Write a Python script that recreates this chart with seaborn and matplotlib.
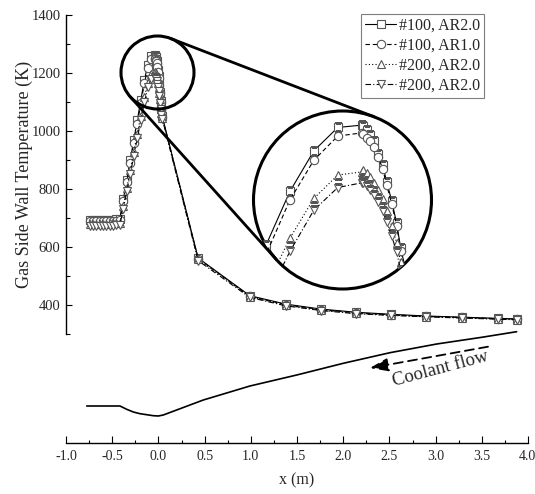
import numpy as np
import pandas as pd
import matplotlib
matplotlib.use("Agg")
import matplotlib.pyplot as plt
import seaborn as sns
from matplotlib.patches import Circle
from matplotlib.lines import Line2D
from matplotlib.transforms import IdentityTransform, ScaledTranslation
from matplotlib.ticker import MultipleLocator, FixedLocator

# ---------------- data ----------------
x_grid = [-0.742, -0.706, -0.670, -0.634, -0.598, -0.562, -0.526, -0.490, -0.454, -0.418,
          -0.380, -0.342, -0.304, -0.266, -0.228, -0.190, -0.152, -0.114, -0.076, -0.038,
          -0.0355, -0.0301, -0.0249, -0.0185, -0.0117, -0.0047, 0.0017, 0.0096, 0.0175, 0.0239, 0.032, 0.042,
          0.43, 0.99, 1.38, 1.76, 2.14, 2.52, 2.90, 3.29, 3.67, 3.88]

T_100_ar20 = [692, 692, 692, 693, 693, 693, 694, 694, 695, 697,
              764, 832, 901, 970, 1038, 1107, 1176, 1228, 1258, 1261,
              1260, 1255, 1248, 1240, 1224, 1210, 1188, 1164, 1135, 1103, 1075, 1050,
              562, 432, 403, 386, 375, 368, 362, 358, 354, 352]
T_100_ar10 = [688, 688, 688, 689, 689, 689, 690, 690, 691, 692,
              757, 824, 891, 958, 1025, 1095, 1165, 1216, 1247, 1251,
              1249, 1245, 1240, 1233, 1220, 1205, 1184, 1160, 1132, 1100, 1073, 1048,
              560, 430, 401, 384, 373, 366, 361, 357, 353, 351]
T_200_ar20a = [680, 680, 680, 681, 681, 681, 682, 682, 683, 684,
               742, 804, 866, 929, 991, 1053, 1116, 1167, 1197, 1201,
               1203, 1199, 1194, 1187, 1178, 1166, 1151, 1132, 1110, 1085, 1062, 1045,
               557, 428, 399, 382, 371, 365, 360, 356, 352, 350]
T_200_ar20b = [672, 672, 672, 673, 673, 673, 674, 674, 675, 676,
               731, 792, 853, 915, 976, 1037, 1099, 1152, 1181, 1187,
               1187, 1183, 1178, 1171, 1162, 1151, 1137, 1119, 1098, 1075, 1055, 1042,
               553, 426, 397, 381, 370, 364, 359, 355, 351, 349]

series_labels = ["#100, AR2.0", "#100, AR1.0", "#200, AR2.0", "#200, AR2.0"]
series_values = [T_100_ar20, T_100_ar10, T_200_ar20a, T_200_ar20b]
series_markers = ["s", "o", "^", "v"]
series_lines = ["-", (0, (4, 2.5)), (0, (1, 2)), (0, (5, 2, 1, 2))]

# nozzle wall contour (radius, arbitrary units)
noz_x = [-0.776, -0.416, -0.343, -0.271, -0.199, -0.127, -0.055, -0.001, 0.053,
         0.486, 0.991, 1.497, 2.001, 2.506, 3.012, 3.499, 3.877]
noz_r = [0.37, 0.37, 0.337, 0.31, 0.293, 0.283, 0.273, 0.27, 0.28,
         0.43, 0.57, 0.68, 0.797, 0.903, 0.99, 1.057, 1.113]

x_ticks = [-1.0, -0.5, 0.0, 0.5, 1.0, 1.5, 2.0, 2.5, 3.0, 3.5, 4.0]
y_ticks = [400, 600, 800, 1000, 1200, 1400]

# coolant-flow annotation (bottom-layer coordinates)
arrow_tail = (3.567, 0.963)
arrow_head = (2.29, 0.75)
coolant_text_pos = (3.05, 0.745)

# ---------------- style ----------------
sns.set_style("ticks")
plt.rcParams["font.family"] = ["Liberation Serif", "DejaVu Serif"]
plt.rcParams["axes.unicode_minus"] = False

W, H = 535, 494
fig = plt.figure(figsize=(W / 100, H / 100), dpi=100)


def rect(left, top, right, bottom):
    return [left / W, 1 - bottom / H, (right - left) / W, (bottom - top) / H]


ax_bot = fig.add_axes(rect(66, 315, 528, 443))
ax_top = fig.add_axes(rect(66, 15, 528, 334))
for a in (ax_top, ax_bot):
    a.patch.set_alpha(0)
ax_top.set_zorder(3)

line_kw = dict(color="black", lw=0.8, markersize=6, markerfacecolor="white",
               markeredgecolor="#555555", markeredgewidth=0.8, errorbar=None, sort=False)

for lab, vals, mk, ls in zip(series_labels, series_values, series_markers, series_lines):
    sns.lineplot(x=x_grid, y=vals, ax=ax_top, marker=mk, linestyle=ls, label=lab, **line_kw)

ax_top.set_xlim(-1, 4)
ax_top.set_ylim(300, 1400)
for s in ("top", "right", "bottom"):
    ax_top.spines[s].set_visible(False)
ax_top.spines["left"].set_linewidth(1.0)
ax_top.spines["left"].set_color("black")
ax_top.tick_params(axis="x", bottom=False, labelbottom=False)
ax_top.yaxis.set_major_locator(FixedLocator(y_ticks))
ax_top.yaxis.set_minor_locator(MultipleLocator(100))
ax_top.tick_params(axis="y", which="major", direction="in", length=4, width=0.8,
                   labelsize=10.5, pad=4, color="black")
ax_top.tick_params(axis="y", which="minor", direction="in", length=3, width=0.8, color="black")
ax_top.set_ylabel("Gas Side Wall Temperature (K)", fontsize=13)
ax_top.yaxis.set_label_coords(-0.072, 0.5)
ax_top.set_xlabel("")

# nozzle contour layer
sns.lineplot(x=noz_x, y=noz_r, ax=ax_bot, color="black", lw=1.2, errorbar=None, sort=False)
ax_bot.set_xlim(-1, 4)
ax_bot.set_ylim(0, 1.28)
for s in ("top", "right", "left"):
    ax_bot.spines[s].set_visible(False)
ax_bot.spines["bottom"].set_linewidth(1.0)
ax_bot.spines["bottom"].set_color("black")
ax_bot.set_yticks([])
ax_bot.xaxis.set_major_locator(FixedLocator(x_ticks))
ax_bot.set_xticklabels([f"{v:.1f}" for v in x_ticks])
ax_bot.xaxis.set_minor_locator(MultipleLocator(0.25))
ax_bot.tick_params(axis="x", which="major", direction="in", length=5, width=0.8,
                   labelsize=10, pad=5, color="black")
ax_bot.tick_params(axis="x", which="minor", direction="in", length=2.5, width=0.8, color="black")
ax_bot.set_xlabel("x (m)", fontsize=11.5)
ax_bot.xaxis.set_label_coords(0.5, -0.23)
ax_bot.set_ylabel("")
# keep the last tick label inside the canvas
last_lab = ax_bot.get_xticklabels()[-1]
last_lab.set_horizontalalignment("right")
last_lab.set_transform(last_lab.get_transform() + ScaledTranslation(6 / 72, 0, fig.dpi_scale_trans))

ax_bot.annotate("", xy=arrow_head, xytext=arrow_tail,
                arrowprops=dict(arrowstyle="-|>,head_length=1.1,head_width=0.4", lw=1.3,
                                ls=(0, (5, 3)), color="black", shrinkA=0, shrinkB=0))
ax_bot.text(coolant_text_pos[0], coolant_text_pos[1], "Coolant flow", rotation=15,
            rotation_mode="anchor", ha="center", va="center", fontsize=13.5)

# legend
leg = ax_top.legend(loc="upper right", bbox_to_anchor=(484 / W, 1 - 14 / H),
                    bbox_transform=fig.transFigure, borderaxespad=0, frameon=True,
                    fancybox=False, edgecolor="#7f7f7f", framealpha=1, fontsize=11.5,
                    handlelength=1.9, handletextpad=0.2, labelspacing=0.25, borderpad=0.25)
leg.get_frame().set_linewidth(0.8)

# magnified inset
inset = fig.add_axes(rect(253.5, 111, 431.5, 289))
for vals, mk, ls in zip(series_values, series_markers, series_lines):
    sns.lineplot(x=x_grid, y=vals, ax=inset, marker=mk, linestyle=ls, legend=False, **line_kw)
inset.set_xlim(-0.2098, 0.0728)
inset.set_ylim(1050.9, 1279.1)
inset.axis("off")
clip = Circle((0.5, 0.5), 0.5, transform=inset.transAxes)
for ln in inset.lines:
    ln.set_clip_path(clip)
inset.add_patch(Circle((0.5, 0.5), 0.5, transform=inset.transAxes, fill=False,
                       lw=2.2, ec="black", clip_on=False))

# small circle and tangent connectors (pixel geometry)
c1 = np.array([157.5, 72.5]); r1 = 36.5
c2 = np.array([342.5, 200.0]); r2 = 89.0
fig.add_artist(Circle((c1[0], H - c1[1]), r1, transform=IdentityTransform(), fill=False,
                      lw=2.2, ec="black", zorder=6))
d = c2 - c1
L = np.hypot(*d)
ang = np.arctan2(d[1], d[0])
phi = np.arccos((r1 - r2) / L)
for sgn in (1, -1):
    n = np.array([np.cos(ang + sgn * phi), np.sin(ang + sgn * phi)])
    p1 = c1 + r1 * n
    p2 = c2 + r2 * n
    fig.add_artist(Line2D([p1[0], p2[0]], [H - p1[1], H - p2[1]], transform=IdentityTransform(),
                          color="black", lw=2.0, zorder=6))

fig.savefig("out.png", dpi=100)
